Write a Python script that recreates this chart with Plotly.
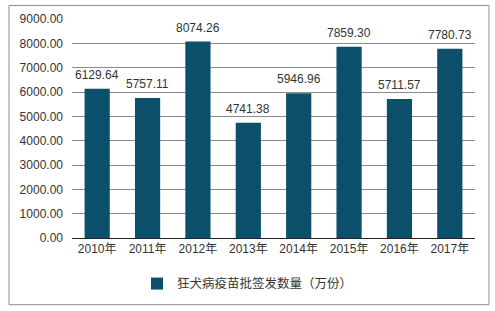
import plotly.graph_objects as go

years = ["2010年", "2011年", "2012年", "2013年", "2014年", "2015年", "2016年", "2017年"]
values = [6129.64, 5757.11, 8074.26, 4741.38, 5946.96, 7859.30, 5711.57, 7780.73]
series_name = "狂犬病疫苗批签发数量（万份）"
y_ticks = [0, 1000, 2000, 3000, 4000, 5000, 6000, 7000, 8000, 9000]

FONT = "Liberation Sans, Arial, Noto Sans CJK SC, sans-serif"
BAR = "#0B4F6A"

fig = go.Figure()
fig.add_trace(go.Bar(
    x=years, y=values, name=series_name,
    marker=dict(color=BAR, line=dict(width=0)),
))

for yr, v in zip(years, values):
    fig.add_annotation(x=yr, y=v, text=f"{v:.2f}", showarrow=False,
                       yanchor="bottom", yshift=5,
                       font=dict(size=12, color="#333333", family=FONT))

fig.update_layout(
    width=495, height=311,
    margin=dict(l=72, r=20, t=19, b=73),
    paper_bgcolor="white", plot_bgcolor="white",
    font=dict(family=FONT, size=12, color="#333333"),
    bargap=0.5,
    showlegend=True,
    legend=dict(orientation="h", xref="container", x=0.5, xanchor="center",
                yref="container", y=0.087, yanchor="middle",
                font=dict(size=12.5, color="#333333", family=FONT),
                itemwidth=30),
    xaxis=dict(showgrid=False, showline=True, linecolor="#222222", linewidth=1,
               ticks="", tickfont=dict(size=12, color="#333333")),
    yaxis=dict(range=[0, 9000], tickvals=y_ticks,
               ticktext=[f"{v:.2f}" for v in y_ticks],
               showgrid=True, gridcolor="#8a8a8a", gridwidth=1,
               zeroline=False, showline=False, ticks="",
               ticklabelstandoff=8,
               tickfont=dict(size=12, color="#333333")),
    shapes=[dict(type="rect", xref="paper", yref="paper",
                 x0=-0.1563, x1=1.0347, y0=-0.3046, y1=1.062,
                 line=dict(color="#8c8c8c", width=1), fillcolor="rgba(0,0,0,0)")],
)

fig.write_html("out.html")
